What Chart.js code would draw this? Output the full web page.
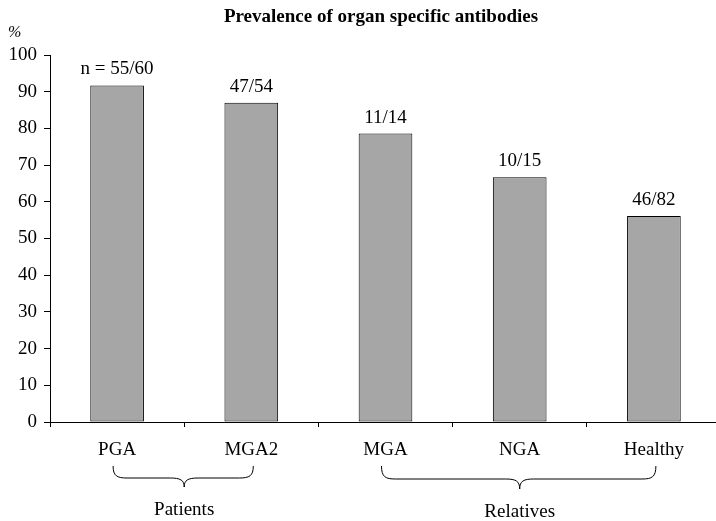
<!DOCTYPE html>
<html>
<head>
<meta charset="utf-8">
<script src="https://cdn.jsdelivr.net/npm/chart.js@4.4.1/dist/chart.umd.min.js"></script>
<style>
  html, body { margin: 0; padding: 0; background: #fff; overflow: hidden; }
  #wrap { width: 716px; height: 521px; overflow: hidden; }
</style>
</head>
<body>
<div id="wrap"><canvas id="prevChart" width="721" height="521"></canvas></div>
<script>
// datos
const categories = ['PGA', 'MGA2', 'MGA', 'NGA', 'Healthy'];
const prevalence = [91.7, 87.0, 78.6, 66.7, 56.1];
const countLabels = ['n = 55/60', '47/54', '11/14', '10/15', '46/82'];
const groupNames = ['Patients', 'Relatives'];
const groupFirst = [0, 2];
const groupLast = [1, 4];
const yTicks = [0, 10, 20, 30, 40, 50, 60, 70, 80, 90, 100];

const SERIF = '"Liberation Serif", "Times New Roman", serif';

// corchete horizontal con la punta hacia abajo
function drawBrace(ctx, x1, x2, xt, yTop, yMid, yTip) {
    const r = 14;
    ctx.beginPath();
    ctx.moveTo(x1, yTop);
    ctx.bezierCurveTo(x1, yMid - 2, x1 + 4, yMid, x1 + r, yMid);
    ctx.lineTo(xt - r, yMid);
    ctx.bezierCurveTo(xt - 4, yMid, xt, yMid + 2, xt, yTip);
    ctx.bezierCurveTo(xt, yMid + 2, xt + 4, yMid, xt + r, yMid);
    ctx.lineTo(x2 - r, yMid);
    ctx.bezierCurveTo(x2 - 4, yMid, x2, yMid - 2, x2, yTop);
    ctx.stroke();
}

const extras = {
    id: 'extras',
    afterDatasetsDraw(chart) {
        const ctx = chart.ctx;
        const meta = chart.getDatasetMeta(0);
        ctx.save();
        ctx.fillStyle = '#000';
        ctx.textAlign = 'center';
        ctx.textBaseline = 'alphabetic';
        ctx.font = '19px ' + SERIF;
        meta.data.forEach((bar, i) => {
            ctx.fillText(countLabels[i], bar.x, bar.y - 11);
        });
        ctx.restore();
    },
    afterDraw(chart) {
        const ctx = chart.ctx;
        const x = chart.scales.x;
        ctx.save();
        ctx.fillStyle = '#000';
        ctx.strokeStyle = '#000';
        ctx.lineWidth = 1;

        // título
        ctx.textAlign = 'center';
        ctx.textBaseline = 'alphabetic';
        ctx.font = 'bold 19px ' + SERIF;
        ctx.fillText('Prevalence of organ specific antibodies', 381, 22);

        // unidad del eje
        ctx.textAlign = 'left';
        ctx.font = 'italic 16px ' + SERIF;
        ctx.fillText('%', 8, 37);

        // grupos bajo el eje x
        ctx.textAlign = 'center';
        ctx.font = '19px ' + SERIF;
        groupNames.forEach((name, g) => {
            const c1 = x.getPixelForValue(groupFirst[g]);
            const c2 = x.getPixelForValue(groupLast[g]);
            const mid = (c1 + c2) / 2;
            const drop = g === 0 ? 0 : 2;
            drawBrace(ctx, c1 - 4, c2 + 2, mid, 466, 478 + drop / 2, 487 + drop);
            ctx.fillText(name, mid, 514 + drop + 1);
        });
        ctx.restore();
    }
};

new Chart(document.getElementById('prevChart'), {
    type: 'bar',
    data: {
        labels: categories,
        datasets: [{
            data: prevalence,
            backgroundColor: '#a6a6a6',
            borderColor: '#000',
            borderWidth: 1,
            borderSkipped: false,
            categoryPercentage: 1,
            barPercentage: 0.40
        }]
    },
    options: {
        responsive: false,
        animation: false,
        layout: { padding: { top: 55, left: 0, right: 0, bottom: 0 } },
        plugins: {
            legend: { display: false },
            title: { display: false },
            tooltip: { enabled: false }
        },
        scales: {
            x: {
                afterFit: s => { s.height = 99; },
                grid: { drawOnChartArea: false, tickLength: 5, color: '#000', offset: true },
                border: { color: '#000', width: 1 },
                ticks: { color: '#000', padding: 12, font: { family: SERIF, size: 19 } }
            },
            y: {
                min: 0,
                max: 100,
                afterFit: s => { s.width = 50; },
                afterBuildTicks: s => { s.ticks = yTicks.map(v => ({ value: v })); },
                grid: { drawOnChartArea: false, tickLength: 6, color: '#000' },
                border: { color: '#000', width: 1 },
                ticks: { color: '#000', padding: 7, font: { family: SERIF, size: 19 } }
            }
        }
    },
    plugins: [extras]
});
</script>
</body>
</html>
